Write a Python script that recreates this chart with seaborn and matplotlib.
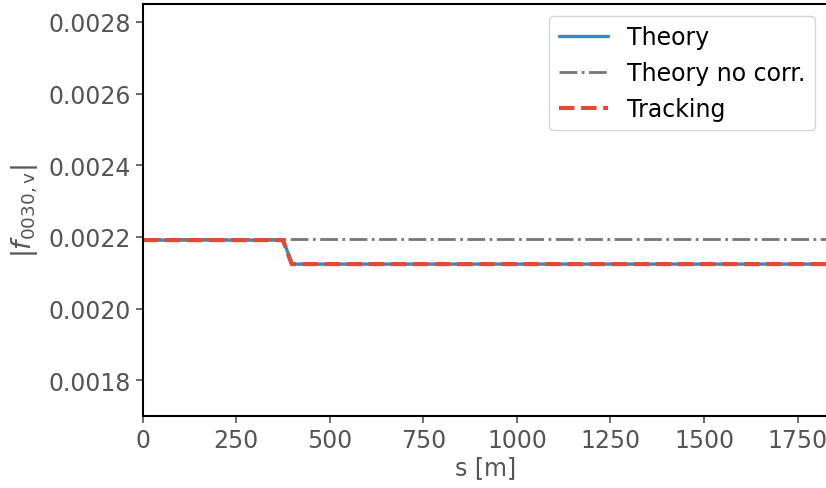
import numpy as np
import pandas as pd
import matplotlib
matplotlib.use("Agg")
import matplotlib.pyplot as plt
import seaborn as sns

# Data
s_theory = [0, 375, 400, 1830]
f_theory = [0.002191, 0.002191, 0.002124, 0.002124]
s_nocorr = [0, 1830]
f_nocorr = [0.002195, 0.002195]
s_track = [0, 375, 398, 1830]
f_track = [0.002191, 0.002191, 0.002124, 0.002124]

series_names = ["Theory", "Theory no corr.", "Tracking"]
series_colors = ["#348ABD", "#777777", "#E24A33"]

yticks = [0.0018, 0.0020, 0.0022, 0.0024, 0.0026, 0.0028]
xticks = [0, 250, 500, 750, 1000, 1250, 1500, 1750]

sns.set_theme(style="ticks")
plt.rcParams["font.family"] = ["DejaVu Sans"]
plt.rcParams["mathtext.fontset"] = "dejavusans"

fig = plt.figure(figsize=(8.26, 4.89), dpi=100)
ax = fig.add_axes([142.7 / 826, 1 - 417 / 489, (827.5 - 142.7) / 826, (417 - 5) / 489])

df_t = pd.DataFrame({"s": s_theory, "f": f_theory})
df_n = pd.DataFrame({"s": s_nocorr, "f": f_nocorr})
df_k = pd.DataFrame({"s": s_track, "f": f_track})

sns.lineplot(data=df_t, x="s", y="f", ax=ax, color=series_colors[0], lw=2.4,
             label=series_names[0], estimator=None, sort=False)
sns.lineplot(data=df_n, x="s", y="f", ax=ax, color=series_colors[1], lw=2.0,
             label=series_names[1], estimator=None, sort=False, linestyle="-.")
sns.lineplot(data=df_k, x="s", y="f", ax=ax, color=series_colors[2], lw=3.0,
             label=series_names[2], estimator=None, sort=False, linestyle="--")

ax.set_xlim(0, 1830)
ax.set_ylim(0.0017, 0.00285)
ax.set_xticks(xticks)
ax.set_xticklabels([str(v) for v in xticks])
ax.set_yticks(yticks)
ax.set_yticklabels([f"{v:.4f}" for v in yticks])

txtc = "#555555"
ax.tick_params(axis="both", labelsize=17, colors=txtc, length=5, width=1.2, direction="out")
ax.tick_params(axis="x", pad=4)
ax.set_xlabel("s [m]", fontsize=17, color=txtc, labelpad=2)
ax.set_ylabel(r"$|f_{0030,\mathrm{v}}|$", fontsize=19, color=txtc, labelpad=6)

for sp in ax.spines.values():
    sp.set_color("black")
    sp.set_linewidth(1.5)

leg = ax.legend(loc="upper right", fontsize=17, frameon=True, fancybox=True,
                handlelength=2.1, borderaxespad=0.0, bbox_to_anchor=(0.9818, 0.9709))
leg.get_frame().set_edgecolor("#cccccc")
for t in leg.get_texts():
    t.set_color("black")

fig.savefig("out.png", dpi=100)
